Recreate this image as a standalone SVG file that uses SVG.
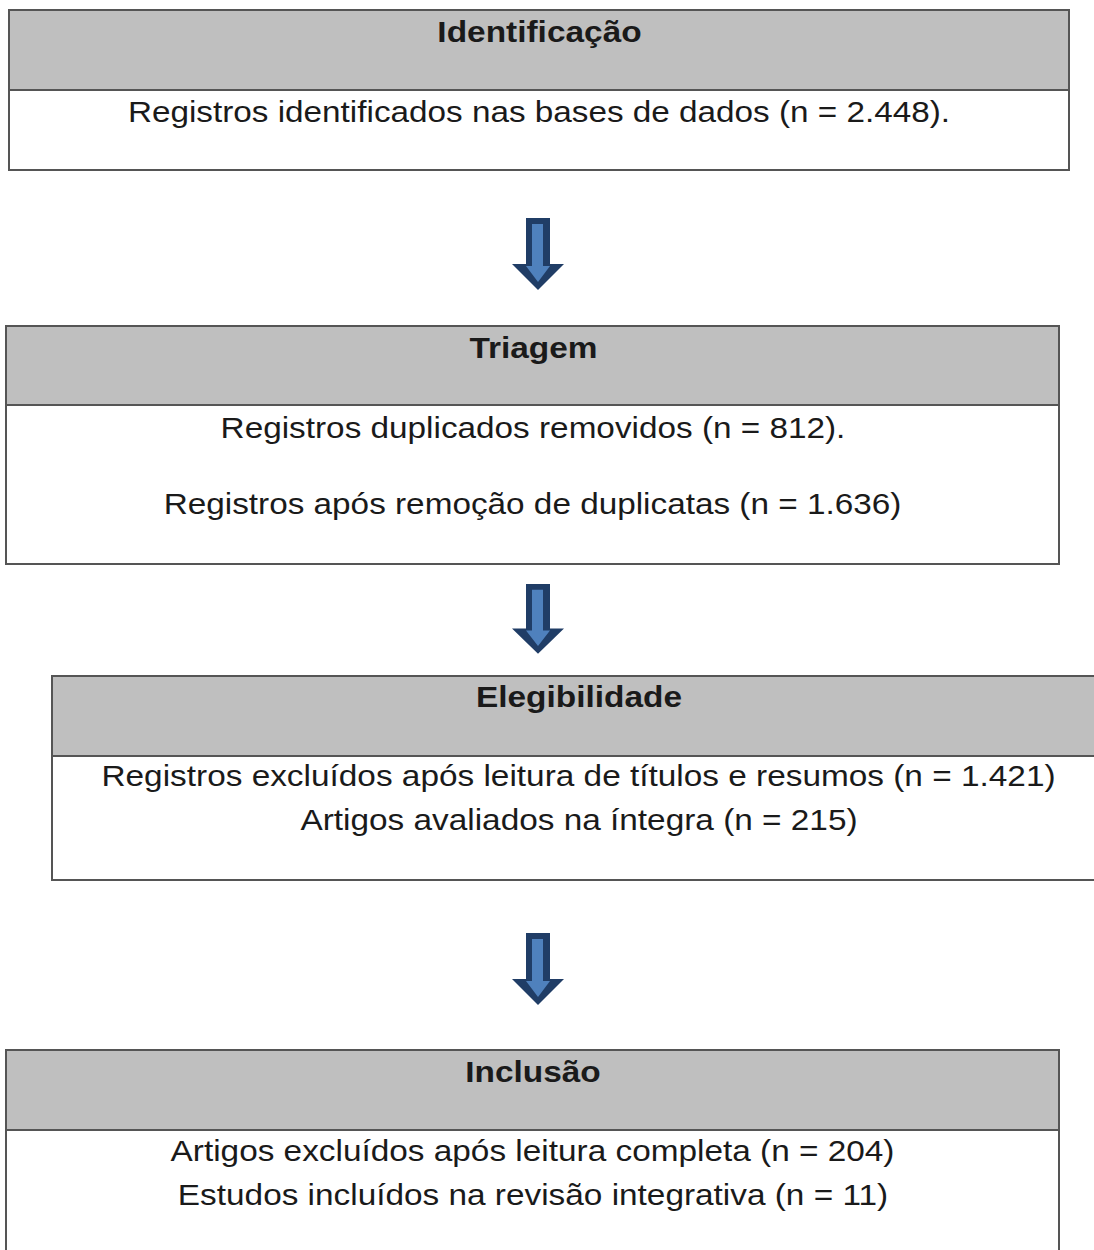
<svg xmlns="http://www.w3.org/2000/svg" width="1094" height="1250" viewBox="0 0 1094 1250">
<defs>
<style>
.hd{fill:#bfbfbf;stroke:#555;stroke-width:2}
.bd{fill:#fff;stroke:#555;stroke-width:2}
.t{font-family:"Liberation Sans",Arial,sans-serif;font-size:29px;fill:#1a1a1a;text-anchor:middle}
.b{font-weight:bold}
.ao{fill:#203d66}
.ai{fill:#4f81bd}
</style>
<g id="arr">
<path class="ao" d="M-12,0 H12 V46 H26 L0,72 L-26,46 H-12 Z"/>
<path class="ai" d="M-6,6 H5 V48 H12 L0,64 L-12,48 H-6 Z"/>
</g>
</defs>
<rect width="1094" height="1250" fill="#fff"/>
<g id="identificacao">
<rect class="bd" x="9" y="10" width="1060" height="160"/>
<rect class="hd" x="9" y="10" width="1060" height="80"/>
<text class="t b" transform="translate(539.5 42) scale(1.153 1)">Identificação</text>
<text class="t" transform="translate(539 122) scale(1.148 1)">Registros identificados nas bases de dados (n = 2.448).</text>
</g>
<g id="triagem">
<rect class="bd" x="6" y="326" width="1053" height="238"/>
<rect class="hd" x="6" y="326" width="1053" height="79"/>
<text class="t b" transform="translate(533.5 358) scale(1.153 1)">Triagem</text>
<text class="t" transform="translate(533 438) scale(1.149 1)">Registros duplicados removidos (n = 812).</text>
<text class="t" transform="translate(532.5 514) scale(1.149 1)">Registros após remoção de duplicatas (n = 1.636)</text>
</g>
<g id="elegibilidade">
<rect class="bd" x="52" y="676" width="1060" height="204"/>
<rect class="hd" x="52" y="676" width="1060" height="80"/>
<text class="t b" transform="translate(579 707) scale(1.153 1)">Elegibilidade</text>
<text class="t" transform="translate(578.5 786) scale(1.151 1)">Registros excluídos após leitura de títulos e resumos (n = 1.421)</text>
<text class="t" transform="translate(579 830) scale(1.15 1)">Artigos avaliados na íntegra (n = 215)</text>
</g>
<g id="inclusao">
<rect class="bd" x="6" y="1050" width="1053" height="220"/>
<rect class="hd" x="6" y="1050" width="1053" height="80"/>
<text class="t b" transform="translate(533 1082) scale(1.153 1)">Inclusão</text>
<text class="t" transform="translate(532.5 1161) scale(1.15 1)">Artigos excluídos após leitura completa (n = 204)</text>
<text class="t" transform="translate(533 1205) scale(1.15 1)">Estudos incluídos na revisão integrativa (n = 11)</text>
</g>
<g id="connectors">
<use href="#arr" transform="translate(538,218)"/>
<use href="#arr" transform="translate(538,584) scale(1,0.97)"/>
<use href="#arr" transform="translate(538,933)"/>
</g>
</svg>
